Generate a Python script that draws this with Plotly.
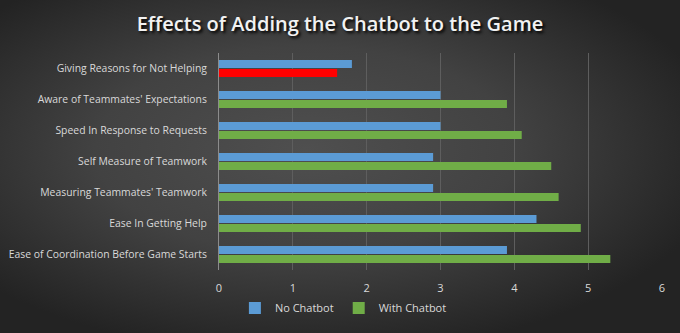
import base64
import plotly.graph_objects as go

categories = [
    "Giving Reasons for Not Helping",
    "Aware of Teammates' Expectations",
    "Speed In Response to Requests",
    "Self Measure of Teamwork",
    "Measuring Teammates' Teamwork",
    "Ease In Getting Help",
    "Ease of Coordination Before Game Starts",
]
no_chatbot = [1.8, 3.0, 3.0, 2.9, 2.9, 4.3, 3.9]
with_chatbot = [1.6, 3.9, 4.1, 4.5, 4.6, 4.9, 5.3]
x_ticks = [0, 1, 2, 3, 4, 5, 6]

BLUE = "#5b9bd5"
GREEN = "#70ad47"
RED = "#ff0000"
with_colors = [RED] + [GREEN] * (len(categories) - 1)

L, R, T, B = 219, 18, 53, 63
W, H = 680, 333
PW, PH = W - L - R, H - T - B

# dark radial backdrop
svg = (
    f'<svg xmlns="http://www.w3.org/2000/svg" width="{W}" height="{H}" '
    f'preserveAspectRatio="none" viewBox="0 0 {W} {H}">'
    '<defs><radialGradient id="g" cx="45%" cy="45%" r="62%">'
    '<stop offset="0%" stop-color="#4f4f4f"/>'
    '<stop offset="50%" stop-color="#424242"/>'
    '<stop offset="100%" stop-color="#232323"/>'
    '</radialGradient></defs>'
    f'<rect width="{W}" height="{H}" fill="url(#g)"/></svg>'
)
bg_src = "data:image/svg+xml;base64," + base64.b64encode(svg.encode()).decode()

fig = go.Figure()
fig.add_trace(go.Bar(
    y=categories, x=no_chatbot, orientation="h", name="No Chatbot",
    marker=dict(color=BLUE, line=dict(width=0)),
))
# listed bottom-up so the legend swatch takes a green point
fig.add_trace(go.Bar(
    y=categories[::-1], x=with_chatbot[::-1], orientation="h", name="With Chatbot",
    marker=dict(color=with_colors[::-1], line=dict(width=0)),
))

fig.update_layout(
    width=W, height=H,
    margin=dict(l=L, r=R, t=T, b=B, autoexpand=False),
    paper_bgcolor="#333333",
    plot_bgcolor="rgba(0,0,0,0)",
    barmode="group", bargap=0.42, bargroupgap=0.12,
    title=dict(
        text="Effects of Adding the Chatbot to the Game",
        x=0.5, xanchor="center", xref="container",
        y=1 - 24 / H, yanchor="middle", yref="container",
        font=dict(family="Open Sans", size=20, color="#f2f2f2", weight=600,
                  shadow="2px 2px 3px #000000"),
    ),
    font=dict(family="Open Sans", color="#d9d9d9", size=11),
    xaxis=dict(
        range=[0, 6], tickvals=x_ticks, ticktext=[str(t) for t in x_ticks],
        showgrid=True, gridcolor="#5e5e5e", gridwidth=1,
        zeroline=False, showline=False, ticks="", ticklabelstandoff=10,
        tickfont=dict(size=11, color="#d9d9d9"), fixedrange=True,
        automargin=False,
    ),
    yaxis=dict(
        categoryorder="array", categoryarray=categories,
        autorange="reversed", showline=True, linecolor="#8c8c8c", linewidth=1,
        ticks="", ticklabelstandoff=9, showgrid=False, automargin=False,
        tickfont=dict(size=10.4, color="#d9d9d9"),
    ),
    legend=dict(
        orientation="h", xref="container", yref="container",
        x=0.505, xanchor="center", y=1 - 308 / H, yanchor="middle",
        font=dict(size=11, color="#d9d9d9"), bgcolor="rgba(0,0,0,0)",
        itemwidth=30, traceorder="normal",
    ),
    showlegend=True,
    images=[dict(
        source=bg_src, xref="paper", yref="paper",
        x=-L / PW, y=1 + T / PH, sizex=W / PW, sizey=H / PH,
        sizing="stretch", layer="below", xanchor="left", yanchor="top",
    )],
)

fig.write_html("out.html")
